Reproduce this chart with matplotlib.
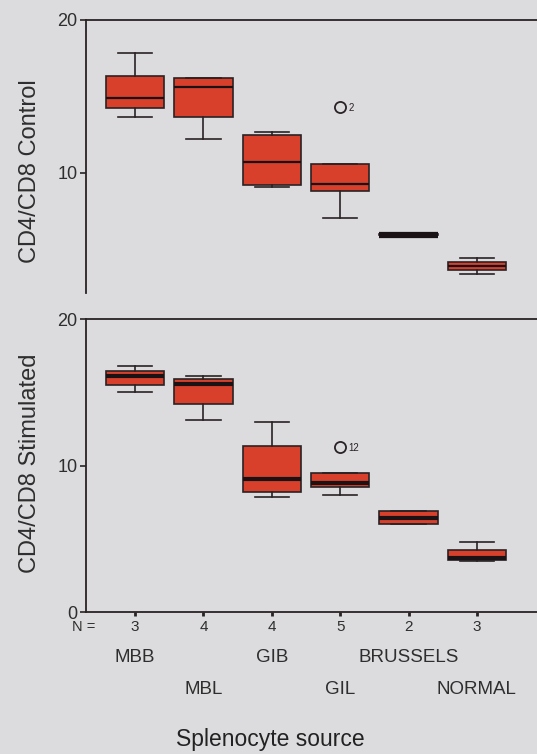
import matplotlib
matplotlib.use('Agg')
import matplotlib.pyplot as plt
import matplotlib.transforms as mtransforms

plt.rcParams['font.family'] = ['Liberation Sans', 'DejaVu Sans']

# splenocyte sources and group sizes
sources = ['MBB', 'MBL', 'GIB', 'GIL', 'BRUSSELS', 'NORMAL']
n_values = [3, 4, 4, 5, 2, 3]

# CD4/CD8 control: whisker low, q1, median, q3, whisker high
ctrl_wlo = [13.67, 12.19, 9.08, 7.01, 5.90, 3.37]
ctrl_q1 = [14.26, 13.63, 9.19, 8.82, 5.90, 3.61]
ctrl_med = [14.87, 15.59, 10.68, 9.24, 5.94, 3.89]
ctrl_q3 = [16.33, 16.22, 12.47, 10.57, 5.98, 4.15]
ctrl_whi = [17.82, 16.22, 12.69, 10.57, 5.98, 4.39]
ctrl_outlier = {'GIL': (14.32, '2')}

# CD4/CD8 stimulated
stim_wlo = [15.00, 13.08, 7.86, 7.98, 6.02, 3.47]
stim_q1 = [15.50, 14.17, 8.20, 8.55, 6.02, 3.58]
stim_med = [16.11, 15.54, 9.05, 8.80, 6.45, 3.69]
stim_q3 = [16.45, 15.93, 11.33, 9.46, 6.90, 4.26]
stim_whi = [16.79, 16.09, 12.99, 9.46, 6.90, 4.81]
stim_outlier = {'GIL': (11.28, '12')}

bg = '#dcdcde'
red = '#d8402c'
dark = '#2a2224'
positions = list(range(1, len(sources) + 1))


def make_stats(wlo, q1, med, q3, whi):
    stats = []
    for i in range(len(sources)):
        stats.append({'whislo': wlo[i], 'q1': q1[i], 'med': med[i],
                      'q3': q3[i], 'whishi': whi[i], 'fliers': []})
    return stats


def draw_panel(ax, stats, outliers, med_lw, ylim, yticks):
    ax.set_facecolor(bg)
    ax.bxp(stats, positions=positions, widths=0.85, patch_artist=True,
           showfliers=False,
           boxprops=dict(facecolor=red, edgecolor=dark, linewidth=1.2),
           medianprops=dict(color='#1a1214', linewidth=med_lw),
           whiskerprops=dict(color=dark, linewidth=1.2),
           capprops=dict(color=dark, linewidth=1.2),
           capwidths=0.5)
    for name, (val, lab) in outliers.items():
        x = positions[sources.index(name)]
        ax.plot(x, val, 'o', mfc='none', mec=dark, ms=8, mew=1.3)
        ax.annotate(lab, (x, val), xytext=(6, -1), textcoords='offset points',
                    fontsize=7, va='center', color=dark)
    ax.set_xlim(0.28, 6.88)
    ax.set_ylim(*ylim)
    ax.set_yticks(yticks)
    ax.tick_params(axis='y', labelsize=13, length=4, width=1.2,
                   colors=dark, labelcolor='#2e2e2e', pad=2)
    ax.spines['right'].set_visible(False)
    for s in ['left', 'top', 'bottom']:
        ax.spines[s].set_color(dark)
        ax.spines[s].set_linewidth(1.3)


fig = plt.figure(figsize=(5.37, 7.54), dpi=100, facecolor=bg)

ax1 = fig.add_axes([0.160, 0.6114, 0.84, 0.3621])
draw_panel(ax1, make_stats(ctrl_wlo, ctrl_q1, ctrl_med, ctrl_q3, ctrl_whi),
           ctrl_outlier, 1.6, (2.12, 20), [10, 20])
ax1.spines['bottom'].set_visible(False)
ax1.set_xticks([])
# brussels box collapses to a thick bar
ax1.plot([positions[4] - 0.425, positions[4] + 0.425], [ctrl_med[4]] * 2,
         color='#1a1214', lw=4.5, solid_capstyle='butt')

ax2 = fig.add_axes([0.160, 0.1883, 0.84, 0.3886])
draw_panel(ax2, make_stats(stim_wlo, stim_q1, stim_med, stim_q3, stim_whi),
           stim_outlier, 3.0, (0, 20), [0, 10, 20])
ax2.set_xticks(positions)
ax2.set_xticklabels([])
ax2.tick_params(axis='x', length=3, width=2, colors=dark)

fig.text(0.056, 0.773, 'CD4/CD8 Control', rotation=90, fontsize=17,
         ha='center', va='center', color='#2e2e2e')
fig.text(0.056, 0.386, 'CD4/CD8 Stimulated', rotation=90, fontsize=17,
         ha='center', va='center', color='#2e2e2e')

trans = mtransforms.blended_transform_factory(ax2.transData, fig.transFigure)
fig.text(0.155, 0.1684, 'N =', fontsize=10.5, ha='center', va='center', color='#2e2e2e')
for i, (pos, n) in enumerate(zip(positions, n_values)):
    ax2.text(pos, 0.1684, str(n), transform=trans, fontsize=11,
             ha='center', va='center', color='#2e2e2e')
    row_y = 0.1286 if i % 2 == 0 else 0.0849
    ax2.text(pos, row_y, sources[i], transform=trans, fontsize=13.5,
             ha='center', va='center', color='#2e2e2e')

fig.text(0.503, 0.0186, 'Splenocyte source', fontsize=16.5, ha='center',
         va='center', color='#222222')

fig.savefig('out.png', dpi=100, facecolor=bg)
